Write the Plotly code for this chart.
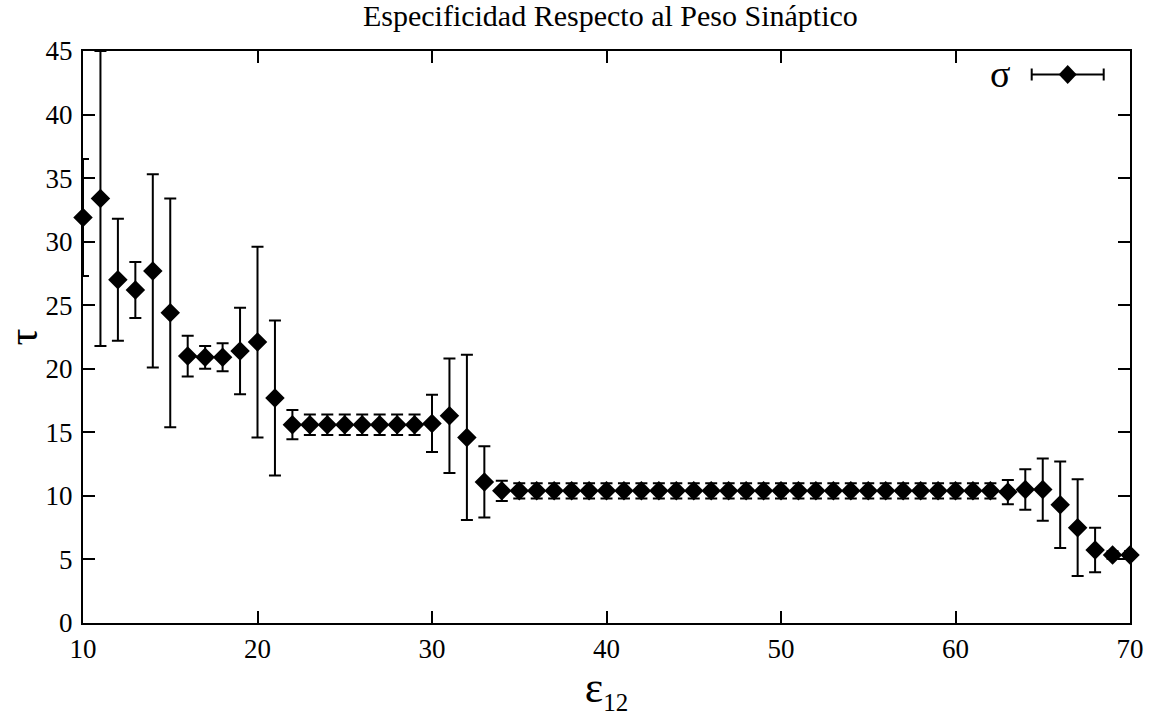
import plotly.graph_objects as go

# ---- data ----
eps12 = list(range(10, 71))
tau = [31.9, 33.4, 27.0, 26.2, 27.7, 24.4, 21.0, 20.9, 20.9, 21.4,
       22.1, 17.7, 15.6, 15.6, 15.6, 15.6, 15.6, 15.6, 15.6, 15.6,
       15.7, 16.3, 14.6, 11.1, 10.4, 10.4, 10.4, 10.4, 10.4, 10.4,
       10.4, 10.4, 10.4, 10.4, 10.4, 10.4, 10.4, 10.4, 10.4, 10.4,
       10.4, 10.4, 10.4, 10.4, 10.4, 10.4, 10.4, 10.4, 10.4, 10.4,
       10.4, 10.4, 10.4, 10.3, 10.5, 10.5, 9.3, 7.5, 5.75, 5.35,
       5.35]
sigma = [4.6, 11.6, 4.8, 2.2, 7.6, 9.0, 1.6, 0.9, 1.1, 3.4,
         7.5, 6.1, 1.15, 0.8, 0.8, 0.8, 0.8, 0.8, 0.8, 0.8,
         2.25, 4.5, 6.5, 2.8, 0.8, 0.6, 0.6, 0.6, 0.6, 0.6,
         0.6, 0.6, 0.6, 0.6, 0.6, 0.6, 0.6, 0.6, 0.6, 0.6,
         0.6, 0.6, 0.6, 0.6, 0.6, 0.6, 0.6, 0.6, 0.6, 0.6,
         0.6, 0.6, 0.6, 0.95, 1.6, 2.45, 3.4, 3.8, 1.75, 0.3,
         0.3]
x_ticks = [10, 20, 30, 40, 50, 60, 70]
y_ticks = [0, 5, 10, 15, 20, 25, 30, 35, 40, 45]

title_text = "Especificidad Respecto al Peso Sináptico"
legend_label = "σ"

FONT = "Liberation Serif"

fig = go.Figure()
fig.add_trace(go.Scatter(
    x=eps12, y=tau, mode="markers", name=legend_label,
    marker=dict(symbol="diamond", size=15, color="black"),
    error_y=dict(type="data", array=sigma, visible=True,
                 color="black", thickness=2, width=6),
    cliponaxis=False, showlegend=False,
))

axis_common = dict(
    showline=True, linecolor="black", linewidth=2, mirror="ticks",
    ticks="inside", ticklen=12, tickwidth=1.5, tickcolor="black",
    showgrid=False, zeroline=False,
)
tick_font = dict(family=FONT, size=27, color="black")

fig.update_layout(
    width=1156, height=716,
    margin=dict(l=83, r=26, t=51, b=93),
    paper_bgcolor="white", plot_bgcolor="white",
    font=dict(family=FONT, color="black", size=27),
    title=dict(text=title_text, x=0.528, xref="container", xanchor="center",
               y=1 - 15 / 716, yref="container", yanchor="middle",
               font=dict(family=FONT, size=30, color="black")),
    xaxis=dict(range=[10, 70], tickvals=x_ticks, ticklabelstandoff=1,
               tickfont=tick_font,
               title=dict(text='ε<sub><span style="font-size:25px">12</span></sub>',
                          standoff=2,
                          font=dict(family=FONT, size=44, color="black")),
               **axis_common),
    yaxis=dict(range=[0, 45], tickvals=y_ticks, ticklabelstandoff=3,
               tickfont=tick_font,
               title=dict(text="τ", standoff=2,
                          font=dict(family=FONT, size=42, color="black")),
               **axis_common),
    showlegend=False,
)

# ---- custom legend: "σ  |--◆--|" in the top-right corner ----
leg_x = 0.9405
leg_y = 0.959
fig.add_shape(type="path", xref="paper", yref="paper",
              xsizemode="pixel", ysizemode="pixel",
              xanchor=leg_x, yanchor=leg_y,
              path="M-36,0 H36 M-36,-6 V6 M36,-6 V6",
              line=dict(color="black", width=2))
fig.add_shape(type="path", xref="paper", yref="paper",
              xsizemode="pixel", ysizemode="pixel",
              xanchor=leg_x, yanchor=leg_y,
              path="M-9,0 L0,9.5 L9,0 L0,-9.5 Z",
              fillcolor="black", line=dict(color="black", width=0))
fig.add_annotation(text=legend_label, xref="paper", yref="paper",
                   x=0.876, y=leg_y, xanchor="center", yanchor="middle",
                   showarrow=False,
                   font=dict(family=FONT, size=38, color="black"))

fig.write_html("out.html")
